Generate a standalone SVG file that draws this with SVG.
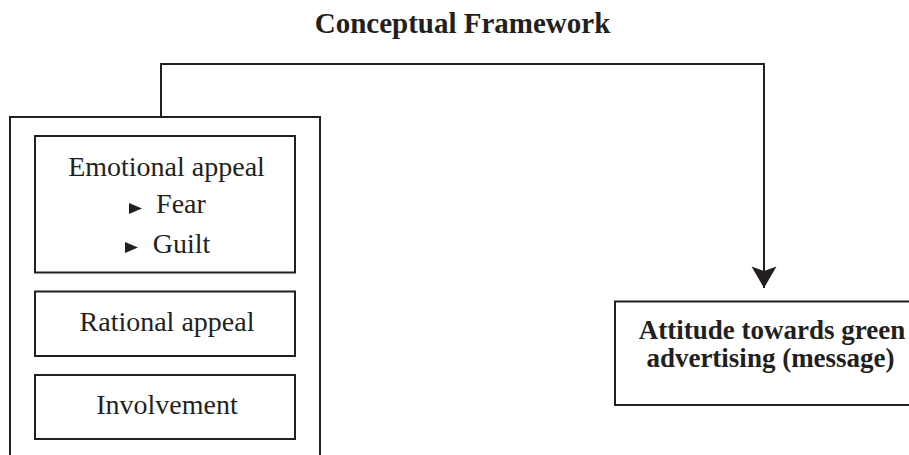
<svg xmlns="http://www.w3.org/2000/svg" width="909" height="455" viewBox="0 0 909 455">
<style>
.box{fill:none;stroke:#231f20;stroke-width:2}
.t{font-family:"Liberation Serif","Times New Roman",serif;fill:#231f20;text-anchor:middle}
.n{font-size:28px}
.b{font-size:27px;font-weight:bold}
.bul{fill:#231f20}
.conn{fill:none;stroke:#231f20;stroke-width:2}
</style>
<defs>
<marker id="ah" markerUnits="userSpaceOnUse" markerWidth="24" markerHeight="26" refX="22" refY="13" orient="auto" viewBox="0 0 24 26">
<path d="M0.5,0.5 L5,13 L0.5,25.5 L22,13 Z" fill="#231f20"/>
</marker>
</defs>
<rect width="909" height="455" fill="#fff"/>
<text class="t b" x="462.5" y="33" style="font-size:29px">Conceptual Framework</text>
<g id="connectors">
<path class="conn" d="M161,117 V64 H764 V288" marker-end="url(#ah)"/>
</g>
<g id="framework">
<path class="box" d="M10,456 V117 H320 V456"/>
</g>
<g id="emotional">
<rect class="box" x="35" y="136" width="260" height="136.5"/>
<text class="t n" x="166.5" y="176">Emotional appeal</text>
<polygon class="bul" points="129,203 142,208.5 129,214"/>
<text class="t n" x="181" y="213">Fear</text>
<polygon class="bul" points="125,242 138,247.5 125,253"/>
<text class="t n" x="181.5" y="252.5">Guilt</text>
</g>
<g id="rational">
<rect class="box" x="35" y="291.5" width="260" height="64.5"/>
<text class="t n" x="167" y="331">Rational appeal</text>
</g>
<g id="involvement">
<rect class="box" x="35" y="375" width="260" height="64"/>
<text class="t n" x="167" y="414">Involvement</text>
</g>
<g id="attitude">
<path class="box" d="M910,301.5 H615 V405 H910"/>
<text class="t b" x="772" y="339">Attitude towards green</text>
<text class="t b" x="770.5" y="366.5">advertising (message)</text>
</g>
</svg>
